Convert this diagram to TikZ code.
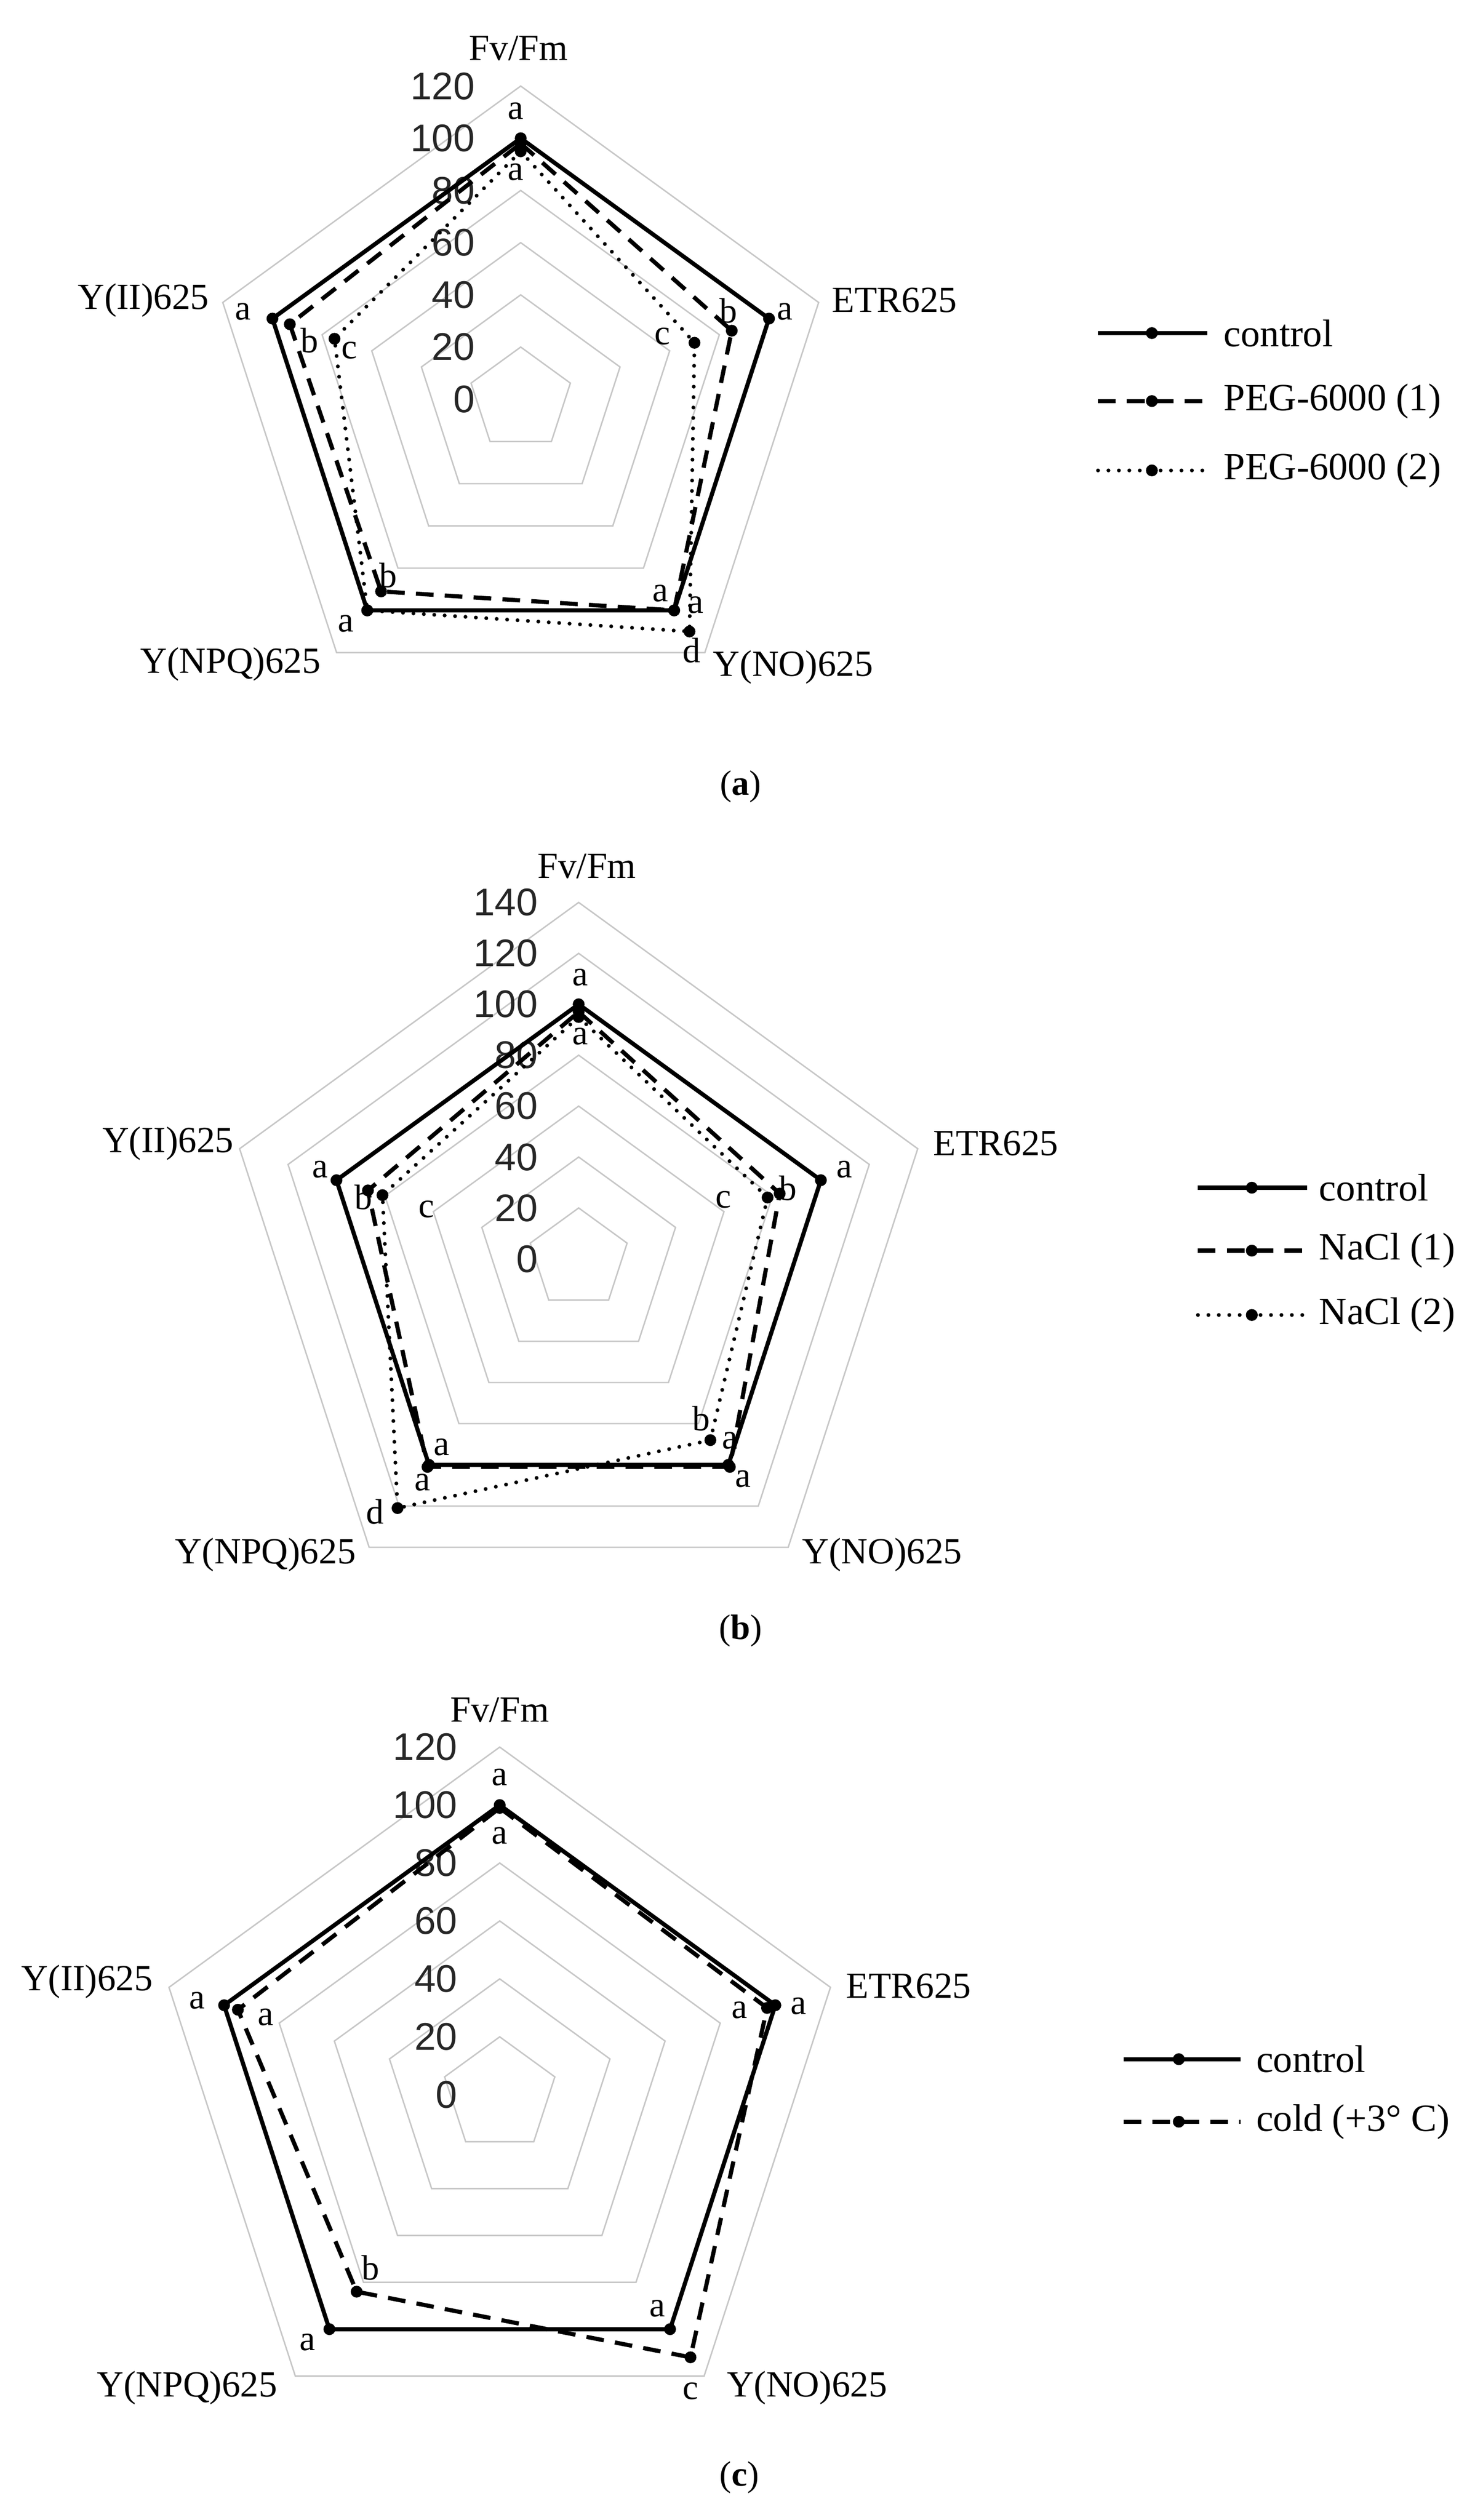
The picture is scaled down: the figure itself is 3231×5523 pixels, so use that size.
\documentclass[tikz,border=0pt]{standalone}
\usepackage{fontspec}
\setmainfont{Liberation Serif}
\newfontfamily\numfont{Liberation Sans}
\usetikzlibrary{calc}
\tikzset{
  grid/.style={draw=black!22, line width=0.9pt},
  ctrl/.style={line width=2.6pt, line join=round},
  dsh/.style={line width=2.6pt, dash pattern=on 11pt off 7pt, line join=round},
  dot/.style={line width=2.4pt, dash pattern=on 0pt off 6.5pt, line cap=round},
  num/.style={font=\fontsize{24}{26}\selectfont\numfont, text=black!85, anchor=east, inner sep=0},
  axl/.style={font=\fontsize{23}{25}\selectfont, inner sep=0},
  lt/.style={font=\fontsize{22}{24}\selectfont, inner sep=0},
  leg/.style={font=\fontsize{24}{26}\selectfont, anchor=west, inner sep=0},
  captxt/.style={font=\fontsize{22}{24}\selectfont, inner sep=0},
}
\newcommand\radargrid[4]{%
  \foreach \i in {1,...,#3}{%
    \draw[grid] ($(#1)+(90:{\i*20*#2})$) -- ($(#1)+(18:{\i*20*#2})$) -- ($(#1)+(-54:{\i*20*#2})$) -- ($(#1)+(-126:{\i*20*#2})$) -- ($(#1)+(162:{\i*20*#2})$) -- cycle;}
  \foreach \i [evaluate=\i as \v using int(\i*20)] in {0,...,#3}{%
    \node[num] at ($(#1)+(-#4,{\i*20*#2})$) {\v};}
}
\newcommand\series[8]{%
  \draw[#8] ($(#1)+(90:{#3*#2})$) coordinate (p1) -- ($(#1)+(18:{#4*#2})$) coordinate (p2) -- ($(#1)+(-54:{#5*#2})$) coordinate (p3) -- ($(#1)+(-126:{#6*#2})$) coordinate (p4) -- ($(#1)+(162:{#7*#2})$) coordinate (p5) -- cycle;
  \foreach \p in {p1,p2,p3,p4,p5} \fill (\p) circle (13);
}
\begin{document}
\begin{tikzpicture}[x=0.01cm,y=0.01cm]
\useasboundingbox (0,0) rectangle (3231,-5523);
% ---------- (a)
\coordinate (A) at (1141,-875);
\radargrid{A}{5.72}{6}{100}
\series{A}{5.72}{95}{70}{110}{100}{75}{dot}
\series{A}{5.72}{98}{85}{100}{91}{93}{dsh}
\series{A}{5.72}{100}{100}{100}{100}{100}{ctrl}
\node[axl] at (1136,-106) {Fv/Fm};
\node[axl] at (1960,-658) {ETR625};
\node[axl] at (314,-658) {Y(II)625};
\node[axl] at (505,-1456) {Y(NPQ)625};
\node[axl] at (1738,-1462) {Y(NO)625};
\foreach \x/\y/\t in {1130/243/a,1130/377/a,1720/683/a,1596/681/b,1452/737/c,533/683/a,678/746/b,766/768/c,850/1261/b,758/1367/a,1447/1300/a,1524/1326/a,1516/1426/d}
  \node[lt] at (\x,-\y) {\t};
\draw[ctrl] (2406,-730) -- (2645,-730); \fill (2524,-730) circle (13);
\node[leg] at (2681,-730) {control};
\draw[dsh] (2406,-879) -- (2645,-879); \fill (2524,-879) circle (13);
\node[leg] at (2681,-879) {PEG-6000 (1)};
\draw[dot] (2406,-1031) -- (2645,-1031); \fill (2524,-1031) circle (13);
\node[leg] at (2681,-1031) {PEG-6000 (2)};
\node[captxt] at (1623,-1724) {(\textbf{a})};
% ---------- (b)
\coordinate (B) at (1268,-2759);
\radargrid{B}{5.58}{7}{89}
\series{B}{5.58}{95}{78}{88}{121}{81}{dot}
\series{B}{5.58}{97}{83}{101}{101}{87}{dsh}
\series{B}{5.58}{100}{100}{100}{100}{100}{ctrl}
\node[axl] at (1286,-1898) {Fv/Fm};
\node[axl] at (2182,-2506) {ETR625};
\node[axl] at (368,-2506) {Y(II)625};
\node[axl] at (582,-3407) {Y(NPQ)625};
\node[axl] at (1933,-3407) {Y(NO)625};
\foreach \x/\y/\t in {1271/2142/a,1271/2271/a,1850/2563/a,1727/2604/b,1585/2629/c,701/2563/a,796/2624/b,934/2650/c,968/3172/a,926/3249/a,822/3313/d,1536/3109/b,1600/3157/a,1628/3241/a}
  \node[lt] at (\x,-\y) {\t};
\draw[ctrl] (2625,-2603) -- (2864,-2603); \fill (2743,-2603) circle (13);
\node[leg] at (2890,-2603) {control};
\draw[dsh] (2625,-2741) -- (2864,-2741); \fill (2743,-2741) circle (13);
\node[leg] at (2890,-2741) {NaCl (1)};
\draw[dot] (2625,-2882) -- (2864,-2882); \fill (2743,-2882) circle (13);
\node[leg] at (2890,-2882) {NaCl (2)};
\node[captxt] at (1623,-3574) {(\textbf{b})};
% ---------- (c)
\coordinate (C) at (1095,-4591);
\radargrid{C}{6.35}{6}{92}
\series{C}{6.35}{99}{97}{112}{84}{95}{dsh}
\series{C}{6.35}{100}{100}{100}{100}{100}{ctrl}
\node[axl] at (1095,-3748) {Fv/Fm};
\node[axl] at (1991,-4353) {ETR625};
\node[axl] at (191,-4343) {Y(II)625};
\node[axl] at (410,-5233) {Y(NPQ)625};
\node[axl] at (1769,-5233) {Y(NO)625};
\foreach \x/\y/\t in {1095/3895/a,1095/4023/a,1620/4405/a,1750/4397/a,432/4385/a,582/4421/a,812/4970/b,674/5134/a,1440/5060/a,1513/5241/c}
  \node[lt] at (\x,-\y) {\t};
\draw[ctrl] (2462,-4513) -- (2718,-4513); \fill (2583,-4513) circle (13);
\node[leg] at (2752,-4513) {control};
\draw[dsh] (2462,-4650) -- (2718,-4650); \fill (2583,-4650) circle (13);
\node[leg] at (2752,-4650) {cold (+3° C)};
\node[captxt] at (1620,-5430) {(\textbf{c})};
\end{tikzpicture}
\end{document}
